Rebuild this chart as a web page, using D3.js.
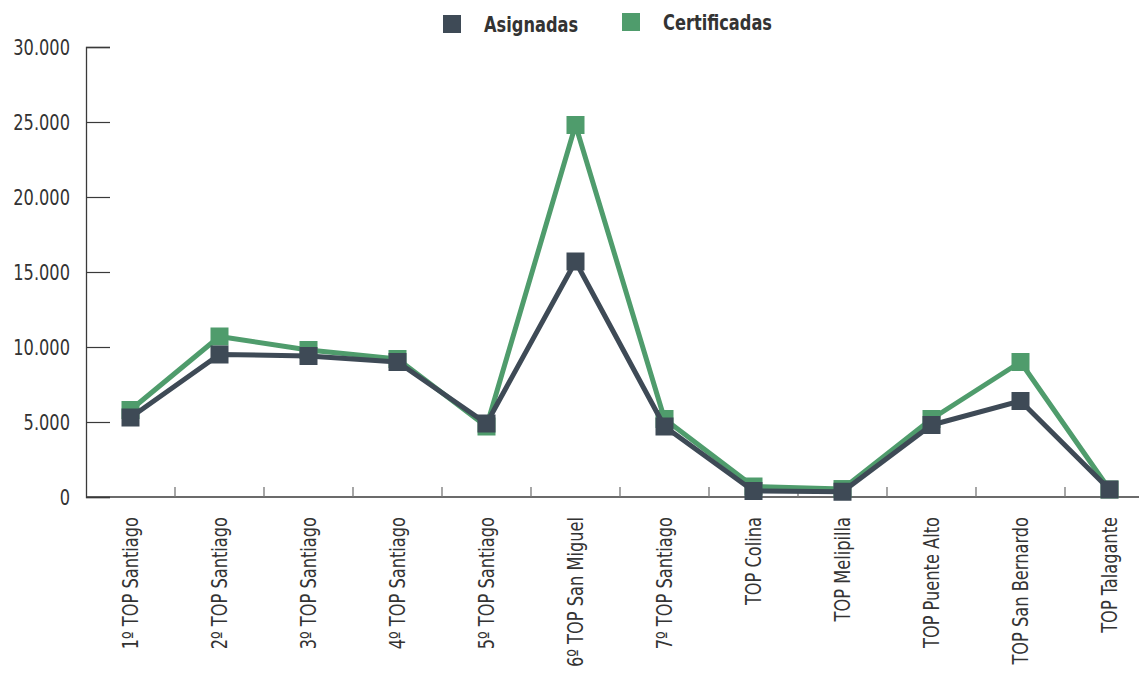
<!DOCTYPE html>
<html>
<head>
<meta charset="utf-8">
<script src="https://cdn.jsdelivr.net/npm/d3@7"></script>
<style>
  body { margin: 0; background: #fff; }
  svg { display: block; font-family: "DejaVu Sans Condensed", "DejaVu Sans", sans-serif; }
</style>
</head>
<body>
<svg id="chart" width="1139" height="680"></svg>
<script>
// data
const categories = [
    '1º TOP Santiago', '2º TOP Santiago', '3º TOP Santiago', '4º TOP Santiago',
    '5º TOP Santiago', '6º TOP San Miguel', '7º TOP Santiago', 'TOP Colina',
    'TOP Melipilla', 'TOP Puente Alto', 'TOP San Bernardo', 'TOP Talagante'
]
const asignadas = [5300, 9500, 9400, 9000, 4900, 15700, 4700, 400, 350, 4800, 6400, 500]
const certificadas = [5800, 10700, 9800, 9200, 4700, 24800, 5200, 700, 530, 5200, 9000, 500]
const yTicks = [0, 5000, 10000, 15000, 20000, 25000, 30000]

const seriesNames = ['Asignadas', 'Certificadas']
const seriesColors = ['#3e4a56', '#4f9c6c']

const svg = d3.select('#chart')
const axisColor = '#3a3a3a'
const squeeze = 'scale(0.82,1)'   // the reference font is a condensed face

const x = d3.scaleBand()
    .domain(categories)
    .range([86, 86 + 89 * categories.length])

const y = d3.scaleLinear()
    .domain([0, 30000])
    .range([497, 47])

const locale = d3.formatLocale({ decimal: ',', thousands: '.', grouping: [3], currency: ['$', ''] })
const fmt = locale.format(',')

// y axis
const yAxis = svg.append('g')
    .attr('transform', 'translate(86,0)')
    .call(d3.axisRight(y).tickValues(yTicks).tickSize(24).tickFormat(''))
yAxis.select('.domain').attr('stroke', axisColor).attr('stroke-width', 1.3)
yAxis.selectAll('.tick line').attr('stroke', axisColor).attr('stroke-width', 1.2)

svg.append('g').selectAll('text')
    .data(yTicks)
    .enter().append('text')
    .attr('transform', d => `translate(70,${y(d)}) ${squeeze}`)
    .attr('dy', '0.36em')
    .attr('text-anchor', 'end')
    .attr('font-size', 22)
    .attr('fill', '#333')
    .text(d => fmt(d))

// x axis
svg.append('line')
    .attr('x1', 86).attr('x2', 1139)
    .attr('y1', y(0)).attr('y2', y(0))
    .attr('stroke', axisColor).attr('stroke-width', 1.5)

svg.append('g').selectAll('line')
    .data(categories.slice(1))
    .enter().append('line')
    .attr('x1', d => x(d)).attr('x2', d => x(d))
    .attr('y1', y(0)).attr('y2', y(0) - 10)
    .attr('stroke', '#777').attr('stroke-width', 1.3)

svg.append('g').selectAll('text')
    .data(categories)
    .enter().append('text')
    .attr('transform', d => `translate(${x(d) + x.bandwidth() / 2},517) rotate(-90) ${squeeze}`)
    .attr('dy', '0.35em')
    .attr('text-anchor', 'end')
    .attr('font-size', 22)
    .attr('fill', '#333')
    .text(d => d)

// lines + markers, green first so dark sits on top
const line = d3.line()
    .x((d, i) => x(categories[i]) + x.bandwidth() / 2)
    .y(d => y(d))

const drawSeries = (values, color) => {
    svg.append('path')
        .datum(values)
        .attr('d', line)
        .attr('fill', 'none')
        .attr('stroke', color)
        .attr('stroke-width', 5)
        .attr('stroke-linejoin', 'round')
    svg.append('g').selectAll('rect')
        .data(values)
        .enter().append('rect')
        .attr('x', (d, i) => x(categories[i]) + x.bandwidth() / 2 - 9)
        .attr('y', d => y(d) - 9)
        .attr('width', 18)
        .attr('height', 18)
        .attr('fill', color)
}
drawSeries(certificadas, seriesColors[1])
drawSeries(asignadas, seriesColors[0])

// legend
const legendX = [443, 622]
const legend = svg.append('g').selectAll('g')
    .data(seriesNames)
    .enter().append('g')
    .attr('transform', (d, i) => `translate(${legendX[i]},${i === 0 ? 15 : 13})`)
legend.append('rect')
    .attr('width', 18).attr('height', 18)
    .attr('fill', (d, i) => seriesColors[i])
legend.append('text')
    .attr('transform', `translate(41,9) ${squeeze}`)
    .attr('dy', '0.36em')
    .attr('font-size', 22)
    .attr('font-weight', 'bold')
    .attr('fill', '#333')
    .text(d => d)
</script>
</body>
</html>
